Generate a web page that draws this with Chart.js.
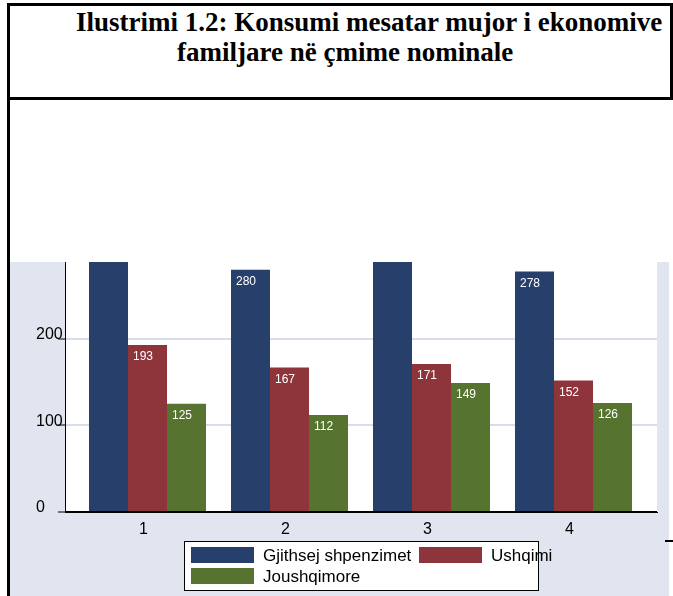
<!DOCTYPE html>
<html lang="sq">
<head>
  <meta charset="UTF-8">
  <title>Ilustrimi 1.2</title>
  <script src="https://cdn.jsdelivr.net/npm/chart.js"></script>
  <style>
    body {
      margin: 0;
      width: 673px;
      height: 596px;
      background: #fff;
      position: relative;
      overflow: hidden;
    }
    .titleBox {
      position: absolute;
      left: 7px;
      top: 3px;
      width: 666px;
      height: 97px;
      border: 3px solid #000;
      box-sizing: border-box;
    }
    .leftLine {
      position: absolute;
      left: 7px;
      top: 3px;
      width: 3px;
      height: 593px;
      background: #000;
    }
    .titleLine {
      position: absolute;
      font-family: 'Liberation Serif', 'Times New Roman', serif;
      font-weight: bold;
      font-size: 27px;
      line-height: 30px;
      white-space: nowrap;
      color: #000;
    }
    #chartBox {
      position: absolute;
      left: 10px;
      top: 262px;
      width: 659px;
      height: 334px;
    }
    .dash {
      position: absolute;
      left: 665px;
      top: 540px;
      width: 8px;
      height: 2px;
      background: #000;
    }
  </style>
</head>
<body>
  <div class="titleBox"></div>
  <div class="leftLine"></div>
  <div class="titleLine" style="left:76px; top:7px;">Ilustrimi 1.2: Konsumi mesatar mujor i ekonomive</div>
  <div class="titleLine" style="left:177px; top:37px;">familjare në çmime nominale</div>
  <div id="chartBox"><canvas id="chart" width="659" height="334"></canvas></div>
  <div class="dash"></div>

  <script>
    // Të dhënat
    const categories = [1, 2, 3, 4];
    const totalSpending = [312, 280, 315, 278];   // 1 dhe 3 dalin jashtë grafikut
    const foodSpending = [193, 167, 171, 152];
    const nonFoodSpending = [125, 112, 149, 126];
    const seriesNames = ['Gjithsej shpenzimet', 'Ushqimi', 'Joushqimore'];
    const seriesColors = ['#273f6b', '#8e353c', '#56742f'];
    const yTicks = [0, 100, 200];
    const yMax = 289;

    const toPoints = arr => arr.map((v, i) => ({ x: categories[i], y: v }));

    // Sfondi: gri e çelët jashtë, e bardhë brenda zonës së grafikut
    const backgroundPlugin = {
      id: 'bg',
      beforeDraw(chart) {
        const { ctx, chartArea: a } = chart;
        ctx.save();
        ctx.fillStyle = '#e1e5f0';
        ctx.fillRect(0, 0, chart.width, chart.height);
        ctx.fillStyle = '#ffffff';
        ctx.fillRect(a.left, a.top, a.right - a.left, a.bottom - a.top);
        ctx.restore();
      }
    };

    // Vlerat brenda shtyllave
    const valueLabels = {
      id: 'valueLabels',
      afterDatasetsDraw(chart) {
        const { ctx, chartArea: a } = chart;
        ctx.save();
        ctx.font = '12px "Liberation Sans", Arial, sans-serif';
        ctx.fillStyle = '#ffffff';
        ctx.textAlign = 'left';
        ctx.textBaseline = 'middle';
        chart.data.datasets.forEach((ds, di) => {
          chart.getDatasetMeta(di).data.forEach((bar, i) => {
            if (bar.y < a.top) return;
            ctx.fillText(ds.data[i].y, bar.x - bar.width / 2 + 5, bar.y + 12);
          });
        });
        ctx.restore();
      }
    };

    // Legjenda si në origjinal
    const boxLegend = {
      id: 'boxLegend',
      afterDraw(chart) {
        const { ctx } = chart;
        const ds = chart.data.datasets;
        ctx.save();
        ctx.fillStyle = '#ffffff';
        ctx.fillRect(174, 279, 354, 49);
        ctx.strokeStyle = '#000';
        ctx.lineWidth = 1;
        ctx.strokeRect(174.5, 279.5, 354, 49);
        const spots = [
          { x: 181, y: 285 },
          { x: 409, y: 285 },
          { x: 181, y: 306 }
        ];
        ctx.font = '17px "Liberation Sans", Arial, sans-serif';
        ctx.textBaseline = 'middle';
        ctx.textAlign = 'left';
        ds.forEach((d, i) => {
          const s = spots[i];
          ctx.fillStyle = d.backgroundColor;
          ctx.fillRect(s.x, s.y, 63, 16);
          ctx.fillStyle = '#000';
          ctx.fillText(d.label, s.x + 72, s.y + 9);
        });
        ctx.restore();
      }
    };

    new Chart(document.getElementById('chart'), {
      type: 'bar',
      data: {
        datasets: [
          { label: seriesNames[0], data: toPoints(totalSpending), backgroundColor: seriesColors[0] },
          { label: seriesNames[1], data: toPoints(foodSpending), backgroundColor: seriesColors[1] },
          { label: seriesNames[2], data: toPoints(nonFoodSpending), backgroundColor: seriesColors[2] }
        ]
      },
      options: {
        responsive: false,
        animation: false,
        events: [],
        categoryPercentage: 0.824,
        barPercentage: 1.0,
        layout: { padding: { left: 26, right: 12, top: 0, bottom: 0 } },
        plugins: {
          legend: { display: false },
          tooltip: { enabled: false },
          title: { display: false }
        },
        scales: {
          x: {
            type: 'linear',
            offset: false,
            min: 0.419,
            max: 4.588,
            grid: { display: false, drawTicks: false, offset: false },
            border: { color: '#000', width: 1 },
            ticks: {
              color: '#000',
              padding: 8,
              labelOffset: -4,
              font: { family: '"Liberation Sans", Arial, sans-serif', size: 16 }
            },
            afterBuildTicks(scale) {
              scale.ticks = categories.map(v => ({ value: v }));
            },
            afterFit(scale) {
              scale.height = 84;
              scale.paddingLeft = 0;
              scale.paddingRight = 0;
            }
          },
          y: {
            min: 0,
            max: yMax,
            grid: {
              color: ctx => (ctx.tick && ctx.tick.value === 0 ? '#000' : '#d8dde9'),
              lineWidth: 2,
              tickColor: '#000',
              tickWidth: 1,
              tickLength: 7
            },
            border: { color: '#000', width: 1 },
            ticks: {
              color: '#000',
              crossAlign: 'far',
              labelOffset: -4,
              font: { family: '"Liberation Sans", Arial, sans-serif', size: 16 }
            },
            afterBuildTicks(scale) {
              scale.ticks = yTicks.map(v => ({ value: v }));
            },
            afterFit(scale) {
              scale.width = 29;
              scale.paddingTop = 0;
              scale.paddingBottom = 0;
            }
          }
        }
      },
      plugins: [backgroundPlugin, valueLabels, boxLegend]
    });
  </script>
</body>
</html>
